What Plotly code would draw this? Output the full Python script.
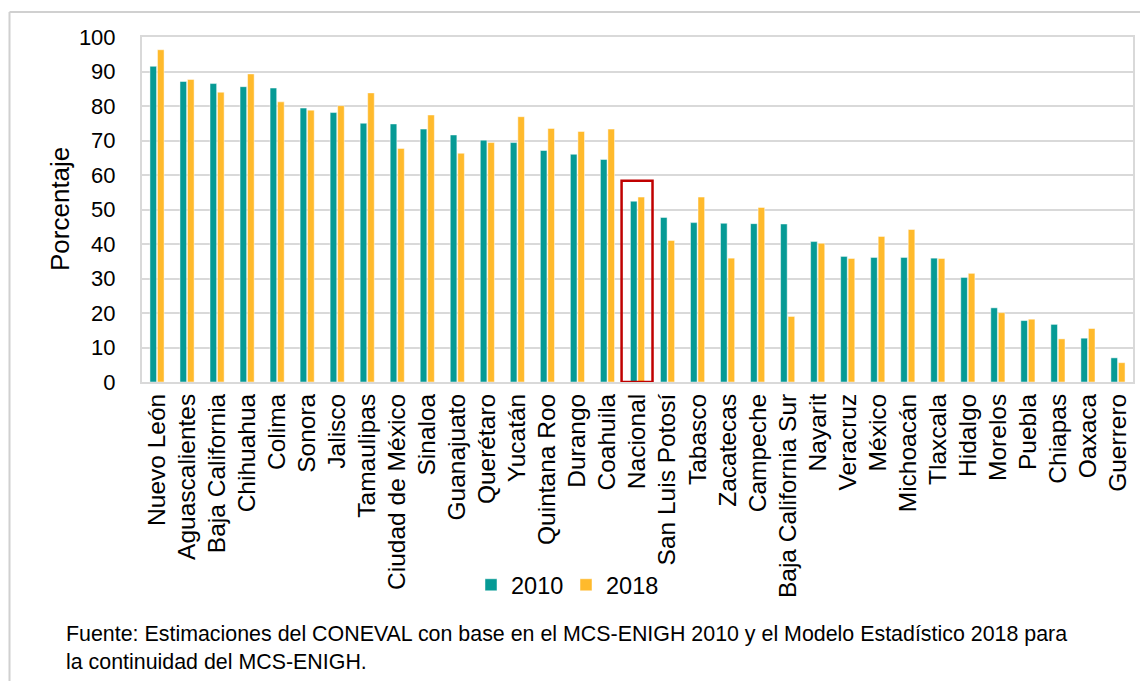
import plotly.graph_objects as go

estados = ["Nuevo León", "Aguascalientes", "Baja California", "Chihuahua", "Colima",
           "Sonora", "Jalisco", "Tamaulipas", "Ciudad de México", "Sinaloa",
           "Guanajuato", "Querétaro", "Yucatán", "Quintana Roo", "Durango",
           "Coahuila", "Nacional", "San Luis Potosí", "Tabasco", "Zacatecas",
           "Campeche", "Baja California Sur", "Nayarit", "Veracruz", "México",
           "Michoacán", "Tlaxcala", "Hidalgo", "Morelos", "Puebla", "Chiapas",
           "Oaxaca", "Guerrero"]

v2010 = [91.5, 87.1, 86.5, 85.6, 85.2, 79.4, 78.1, 75.0, 74.8, 73.3,
         71.6, 70.1, 69.4, 67.1, 66.0, 64.5, 52.4, 47.7, 46.2, 46.0,
         45.9, 45.8, 40.7, 36.4, 36.1, 36.1, 35.9, 30.3, 21.5, 17.8, 16.7,
         12.7, 7.0]

v2018 = [96.3, 87.7, 84.0, 89.3, 81.2, 78.8, 80.1, 83.8, 67.7, 77.4,
         66.3, 69.4, 76.9, 73.5, 72.6, 73.3, 53.6, 41.0, 53.6, 35.9,
         50.6, 19.0, 40.2, 35.8, 42.2, 44.2, 35.8, 31.5, 20.1, 18.2, 12.5,
         15.5, 5.6]

series_names = ["2010", "2018"]
colors = ["#069A95", "#FFBA2C"]

y_ticks = list(range(0, 101, 10))

FONT = "Liberation Sans, Arial, sans-serif"

fig = go.Figure()
for name, vals, col in zip(series_names, [v2010, v2018], colors):
    fig.add_trace(go.Bar(
        x=estados, y=vals, name=name,
        marker=dict(color=col, line=dict(color="rgba(255,255,255,0.8)", width=0.6)),
    ))

OFF = 8  # page body margin
W, H = 1140, 673
L, R, T, B = 134, 15, 29, 299
pw = W - L - R
ph = H - T - B
PLOT_LEFT = OFF + L
PLOT_BOTTOM = OFF + H - B

def px_x(px):
    return (px - PLOT_LEFT) / pw

def px_y(py):
    return (PLOT_BOTTOM - py) / ph

fig.update_layout(
    width=W, height=H, autosize=False,
    margin=dict(l=L, r=R, t=T, b=B),
    paper_bgcolor="white", plot_bgcolor="white",
    font=dict(family=FONT, color="black"),
    barmode="group", bargap=0.5, bargroupgap=0.12,
    showlegend=True,
    legend=dict(orientation="h", x=px_x(566), xanchor="center",
                y=px_y(585), yanchor="middle",
                font=dict(size=23.5, family=FONT), itemwidth=30,
                entrywidth=50, entrywidthmode="pixels",
                bgcolor="rgba(0,0,0,0)"),
    xaxis=dict(type="category", tickangle=-90, tickfont=dict(size=24.5, family=FONT),
               showline=True, linecolor="#D9D9D9", linewidth=2, mirror=True,
               ticks="", showgrid=False, range=[-0.5, len(estados) - 0.5]),
    yaxis=dict(range=[0, 100], tickvals=y_ticks, tickfont=dict(size=22, family=FONT),
               showgrid=True, gridcolor="#D9D9D9", gridwidth=1.5,
               showline=True, linecolor="#D9D9D9", linewidth=2, mirror=True,
               ticks="", ticklabelstandoff=20, zeroline=False),
)

# Y-axis title
fig.add_annotation(text="Porcentaje", xref="paper", yref="paper",
                   x=px_x(60), y=px_y(209), textangle=-90,
                   showarrow=False, font=dict(size=26, family=FONT),
                   xanchor="center", yanchor="middle")

# Red highlight rectangle around Nacional
idx = estados.index("Nacional")
fig.add_shape(type="rect", xref="x", yref="y",
              x0=idx - 0.53, x1=idx + 0.5, y0=0, y1=58.3,
              line=dict(color="#C00000", width=2.5), fillcolor="rgba(0,0,0,0)")

# Footnote
fig.add_annotation(
    text="Fuente: Estimaciones del CONEVAL con base en el MCS-ENIGH 2010 y el Modelo Estadístico 2018 para<br>la continuidad del MCS-ENIGH.",
    xref="paper", yref="paper", x=px_x(64), y=px_y(648),
    xanchor="left", yanchor="middle", align="left", showarrow=False,
    font=dict(size=21.4, family=FONT, color="black"))

# Outer frame lines (top and left)
fig.add_shape(type="line", xref="paper", yref="paper",
              x0=px_x(9.5), x1=px_x(1160), y0=px_y(12), y1=px_y(12),
              line=dict(color="#D0D0D0", width=2))
fig.add_shape(type="line", xref="paper", yref="paper",
              x0=px_x(9.5), x1=px_x(9.5), y0=px_y(12), y1=px_y(700),
              line=dict(color="#D0D0D0", width=2))

fig.write_html("out.html")
